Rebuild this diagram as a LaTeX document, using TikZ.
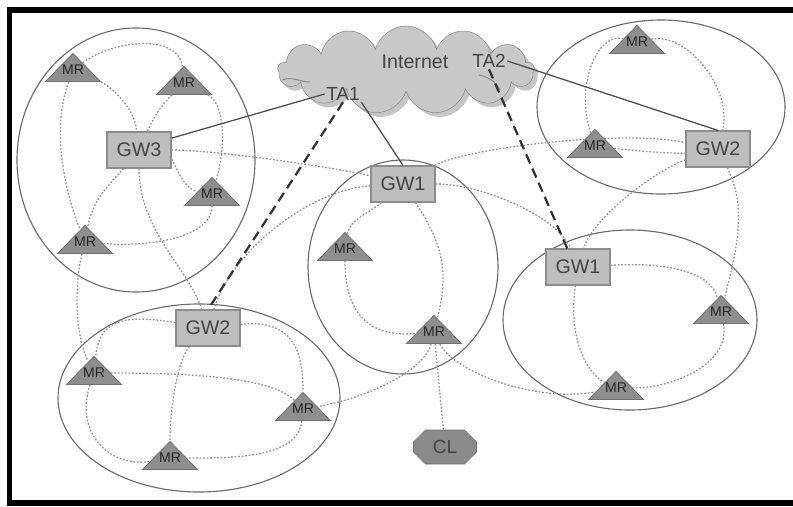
\documentclass[tikz,border=0pt]{standalone}
\usepackage{fontspec}
\setmainfont{Liberation Sans}
\usetikzlibrary{shapes.geometric,shapes.symbols,shapes.misc,shadows}

\definecolor{gwfill}{HTML}{BEBEBE}
\definecolor{gwline}{HTML}{8C8C8C}
\definecolor{mrfill}{HTML}{8E8E8E}
\definecolor{mrline}{HTML}{707070}
\definecolor{clfill}{HTML}{8A8A8A}
\definecolor{cloudfill}{HTML}{C8C8C8}
\definecolor{ring}{HTML}{6A6A6A}
\definecolor{dotc}{HTML}{8E8E8E}
\definecolor{ink}{HTML}{444444}

\begin{document}
\begin{tikzpicture}[x=0.025cm,y=-0.025cm]
  \tikzstyle{gw} = [rectangle, draw=gwline, fill=gwfill, line width=0.8pt, minimum width=1.6cm, minimum height=0.9cm, inner sep=0pt, text=ink, font=\fontsize{14}{16}\selectfont]
  \tikzstyle{mr} = [isosceles triangle, isosceles triangle stretches, shape border rotate=90, draw=mrline, fill=mrfill, line width=0.6pt, minimum width=1.375cm, minimum height=0.7cm, inner sep=0pt, text height=0pt, text depth=0pt, execute at begin node={\hbox to 0pt\bgroup\hss\lower3.5pt\hbox\bgroup}, execute at end node={\egroup\hss\egroup}, text=black!85, font=\fontsize{10}{12}\selectfont]
  \tikzstyle{cl} = [chamfered rectangle, chamfered rectangle xsep=0.15cm, chamfered rectangle ysep=0.15cm, draw=mrline, fill=clfill, minimum width=1.575cm, minimum height=0.85cm, inner sep=0pt, text=ink, font=\fontsize{13.5}{15}\selectfont]
  \tikzstyle{ta} = [inner sep=1pt, text=ink, font=\fontsize{13.5}{15}\selectfont]
  \tikzstyle{zone} = [draw=ring, line width=0.8pt]
  \tikzstyle{dl} = [draw=dotc, line width=0.9pt, dash pattern=on 1.2pt off 1.3pt]
  \tikzstyle{ln} = [draw=black!70, line width=0.9pt]
  \tikzstyle{tun} = [draw=black!80, line width=1.6pt, dash pattern=on 7pt off 4pt]

  \useasboundingbox (0,0) rectangle (793,506);
  \draw[line width=3.6pt] (794,10) -- (9.5,10) -- (9.5,503) -- (794,503);

  % clusters
  \draw[zone] (136,160) ellipse [x radius=119, y radius=132];
  \draw[zone] (661,107) ellipse [x radius=124, y radius=87];
  \draw[zone] (403,267) ellipse [x radius=95, y radius=107];
  \draw[zone] (630,320) ellipse [x radius=127, y radius=90];
  \draw[zone] (199,398) ellipse [x radius=141, y radius=94];

  % internet
  \node[cloud, cloud puffs=13, aspect=2.9, draw=gwline, fill=cloudfill, minimum width=6.4cm, minimum height=2.2cm, drop shadow={shadow xshift=3pt, shadow yshift=-3pt, fill=black!45}] (net) at (406,70) {};
  \draw[gwline, line width=0.7pt] (282,80) .. controls +(10,-4) and +(-10,0) .. (310,82);
  \draw[gwline, line width=0.7pt] (479,75) .. controls +(10,2) and +(-4,-8) .. (500,90);
  \node[ta, font=\fontsize{14}{16}\selectfont] (inet) at (415,62) {Internet};
  \node[ta] (ta1) at (343,94) {TA1};
  \node[ta] (ta2) at (489,61) {TA2};

  % gateways
  \node[gw] (gw3) at (139,150) {GW3};
  \node[gw] (gw1c) at (403,184) {GW1};
  \node[gw] (gw2r) at (718,149) {GW2};
  \node[gw] (gw1r) at (578,267) {GW1};
  \node[gw] (gw2b) at (208,328) {GW2};

  % mesh routers
  \node[mr] (mr1) at (73,70) {MR};
  \node[mr] (mr2) at (184,83) {MR};
  \node[mr] (mr3) at (212,194) {MR};
  \node[mr] (mr4) at (85,242) {MR};
  \node[mr] (mr5) at (345,249) {MR};
  \node[mr] (mr6) at (434,332) {MR};
  \node[mr] (mr7) at (637,42) {MR};
  \node[mr] (mr8) at (595,146) {MR};
  \node[mr] (mr9) at (721,312) {MR};
  \node[mr] (mr10) at (616,388) {MR};
  \node[mr] (mr11) at (94,373) {MR};
  \node[mr] (mr12) at (303,409) {MR};
  \node[mr] (mr13) at (170,458) {MR};

  \node[cl] (cl) at (445,447) {CL};

  % wireless links
  \draw[dl] (mr1) .. controls +(40,-30) and +(-5,-50) .. (mr2);
  \draw[dl] (mr1) .. controls +(-22,60) and +(-20,-50) .. (mr4);
  \draw[dl] (mr1) .. controls +(35,15) and +(-5,-45) .. (gw3);
  \draw[dl] (mr2) .. controls +(-20,20) and +(18,-40) .. (gw3);
  \draw[dl] (mr2) .. controls +(40,20) and +(15,-50) .. (mr3);
  \draw[dl] (gw3) .. controls +(35,10) and +(-30,-5) .. (mr3);
  \draw[dl] (gw3) .. controls +(-25,30) and +(8,-45) .. (mr4);
  \draw[dl] (gw3) .. controls +(0,80) and +(-20,-60) .. (gw2b);
  \draw[dl] (mr3) .. controls +(0,45) and +(60,5) .. (mr4);
  \draw[dl] (mr4) .. controls +(-10,40) and +(-20,-40) .. (mr11);
  \draw[dl] (gw3) .. controls +(80,0) and +(-60,-15) .. (gw1c);
  \draw[dl] (gw1c) .. controls +(-90,5) and +(25,-80) .. (gw2b);

  \draw[dl] (gw1c) .. controls +(-35,30) and +(5,-30) .. (mr5);
  \draw[dl] (mr5) .. controls +(0,70) and +(-60,5) .. (mr6);
  \draw[dl] (gw1c) .. controls +(40,60) and +(15,-60) .. (mr6);
  \draw[dl] (mr6) -- (cl);
  \draw[dl] (mr6) .. controls +(-10,40) and +(60,-10) .. (mr12);
  \draw[dl] (mr6) .. controls +(20,40) and +(-80,15) .. (mr10);
  \draw[dl] (gw1c) .. controls +(80,0) and +(-20,-50) .. (gw1r);
  \draw[dl] (gw1c) .. controls +(60,-35) and +(-100,-20) .. (gw2r);

  \draw[dl] (mr7) .. controls +(-40,-10) and +(-20,-60) .. (mr8);
  \draw[dl] (mr7) .. controls +(50,-10) and +(15,-60) .. (gw2r);
  \draw[dl] (mr8) .. controls +(40,5) and +(-40,5) .. (gw2r);
  \draw[dl] (gw2r) .. controls +(30,60) and +(15,-60) .. (mr9);
  \draw[dl] (gw2r) .. controls +(-60,20) and +(15,-50) .. (gw1r);

  \draw[dl] (gw1r) .. controls +(90,-5) and +(-10,-40) .. (mr9);
  \draw[dl] (gw1r) .. controls +(-10,70) and +(-30,-15) .. (mr10);
  \draw[dl] (mr9) .. controls +(10,50) and +(60,0) .. (mr10);

  \draw[dl] (gw2b) .. controls +(-90,-15) and +(5,-50) .. (mr11);
  \draw[dl] (gw2b) .. controls +(90,-10) and +(0,-50) .. (mr12);
  \draw[dl] (gw2b) .. controls +(-30,30) and +(0,-50) .. (mr13);
  \draw[dl] (mr11) .. controls +(110,0) and +(-30,-30) .. (mr12);
  \draw[dl] (mr11) .. controls +(-20,60) and +(-60,10) .. (mr13);
  \draw[dl] (mr12) .. controls +(-5,50) and +(60,0) .. (mr13);

  % wired links to the internet
  \draw[ln] (gw3.20) -- (ta1.west);
  \draw[ln] (ta1.south east) -- (gw1c.north);
  \draw[ln] (ta2.east) -- (gw2r.north);
  \draw[tun] (ta1.south) -- (gw2b.north);
  \draw[tun] (ta2.south) -- (gw1r.120);
\end{tikzpicture}
\end{document}
